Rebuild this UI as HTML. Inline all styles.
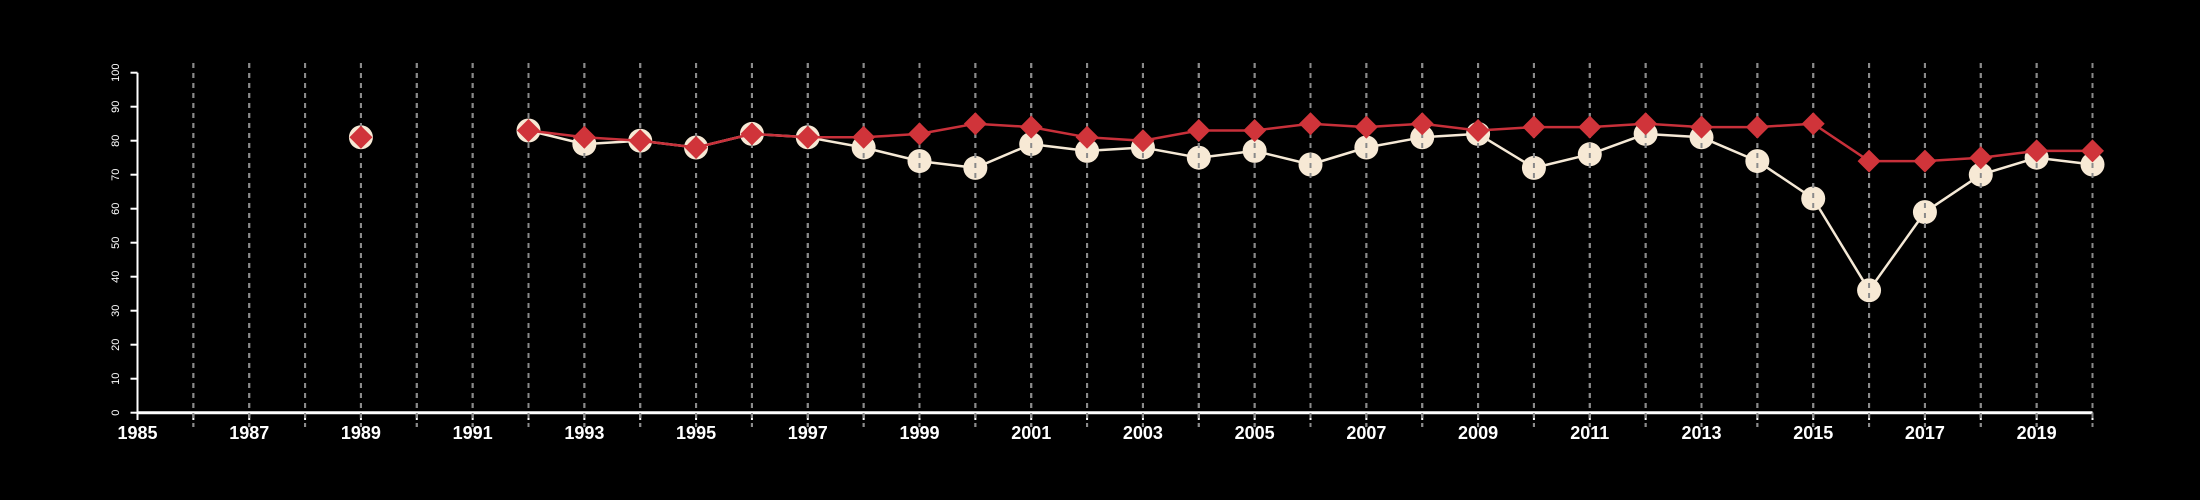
<!DOCTYPE html>
<html><head><meta charset="utf-8"><style>
html,body{margin:0;padding:0;background:#000;}
svg{display:block;}
text{font-family:"Liberation Sans",sans-serif;fill:#fff;}
</style></head><body>
<svg id="chart" width="2200" height="500" viewBox="0 0 2200 500">
<g id="grid"></g>
<g id="axes"></g>
<g id="s1"></g>
<g id="grid2"></g>
<g id="s2"></g>
</svg>
<script>
const years = [1989,1992,1993,1994,1995,1996,1997,1998,1999,2000,2001,2002,2003,2004,2005,2006,2007,2008,2009,2010,2011,2012,2013,2014,2015,2016,2017,2018,2019,2020];
const whiteVals = [81,83,79,80,78,82,81,78,74,72,79,77,78,75,77,73,78,81,82,72,76,82,81,74,63,36,59,70,75,73];
const redVals = [81,83,81,80,78,82,81,81,82,85,84,81,80,83,83,85,84,85,83,84,84,85,84,84,85,74,74,75,77,77];
const yTicks = [0,10,20,30,40,50,60,70,80,90,100];
const xLabels = [1985,1987,1989,1991,1993,1995,1997,1999,2001,2003,2005,2007,2009,2011,2013,2015,2017,2019];

const NS='http://www.w3.org/2000/svg';
const X0=137.5,X1=2092.5,Y0=412.7,Y1=72.7;
const xs=y=>X0+(y-1985)*(X1-X0)/35;
const ys=v=>Y0-(v-0)*(Y0-Y1)/100;
function mk(tag,attrs,parent){const e=document.createElementNS(NS,tag);for(const k in attrs)e.setAttribute(k,attrs[k]);parent.appendChild(e);return e;}
const grid=document.getElementById('grid'),grid2=document.getElementById('grid2'),axes=document.getElementById('axes');
for(let y=1986;y<=2020;y++){
  let l=mk('line',{x1:xs(y),x2:xs(y),y1:63,y2:427,stroke:'#9a9a9a','stroke-width':2,'stroke-dasharray':'5,5'},grid);
  
  
  let l2=mk('line',{x1:xs(y),x2:xs(y),y1:63,y2:427,stroke:'#8a8a8a','stroke-width':2,'stroke-dasharray':'5,5'},grid2);
  
  
}
let xa=mk('line',{x1:X0,x2:X1,y1:Y0,y2:Y0,stroke:'#fff','stroke-width':3},axes);


let ya=mk('line',{x1:X0,x2:X0,y1:Y0,y2:Y1,stroke:'#fff','stroke-width':2},axes);


for(let y=1985;y<=2020;y++){
  let t=mk('line',{x1:xs(y),x2:xs(y),y1:Y0,y2:420,stroke:'#fff','stroke-width':2},axes);
  
  
}
xLabels.forEach(y=>{
  let t=mk('text',{x:xs(y),y:439,'text-anchor':'middle','font-size':18,'font-weight':'bold'},axes);
  t.textContent=y;
  
  
});
yTicks.forEach(v=>{
  let t=mk('line',{x1:X0,x2:X0-7,y1:ys(v),y2:ys(v),stroke:'#fff','stroke-width':2},axes);
  
  
  let tx=mk('text',{x:0,y:0,'text-anchor':'middle','font-size':11,transform:`translate(119,${ys(v)}) rotate(-90)`},axes);
  tx.textContent=v;
  
  
});
function drawLines(vals,color,w,g){
  for(let i=1;i<years.length;i++){
    if(years[i]-years[i-1]!==1)continue;
    let l=mk('line',{x1:xs(years[i-1]),y1:ys(vals[i-1]),x2:xs(years[i]),y2:ys(vals[i]),stroke:color,'stroke-width':w},g);
    
    
  }
}
const s1=document.getElementById('s1'),s2=document.getElementById('s2');
drawLines(whiteVals,'#f5e9d6',2.5,s1);
whiteVals.forEach((v,i)=>{
  let c=mk('circle',{cx:xs(years[i]),cy:ys(v),r:12,fill:'#f7e9d5'},s1);
  
  
});
drawLines(redVals,'#c8303a',2.5,s2);
redVals.forEach((v,i)=>{
  const x=xs(years[i]),y=ys(v),d=11.5;
  let p=mk('polygon',{points:`${x},${y-d} ${x+d},${y} ${x},${y+d} ${x-d},${y}`,fill:'#d0343a'},s2);
  
  
});
</script>
</body></html>
